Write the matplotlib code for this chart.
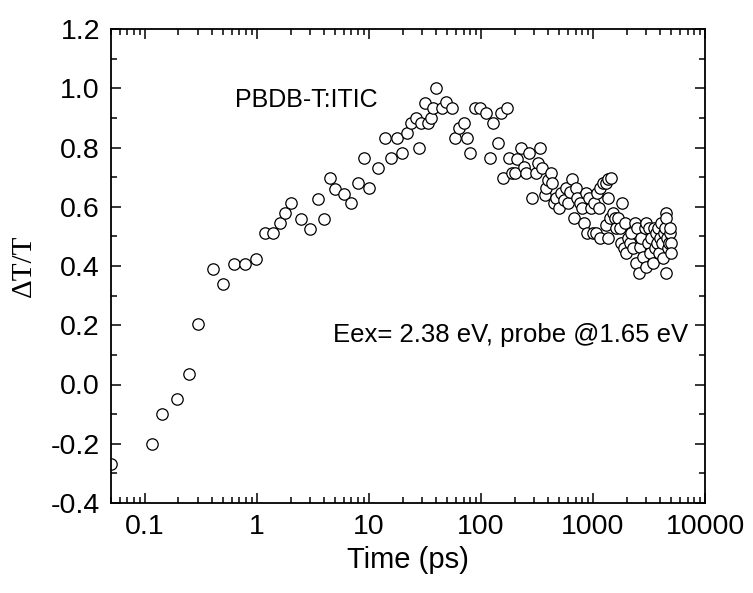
import matplotlib
matplotlib.use("Agg")
import matplotlib.pyplot as plt
from matplotlib.ticker import FixedLocator, FixedFormatter, LogLocator, MultipleLocator, FormatStrFormatter, NullFormatter

plt.rcParams['axes.unicode_minus'] = False
plt.rcParams['font.family'] = ['Liberation Sans', 'DejaVu Sans']

time_ps = [0.05, 0.116, 0.143, 0.196, 0.249, 0.301, 0.41, 0.50, 0.62, 0.79, 0.99,
           1.19, 1.39, 1.60, 1.80, 2.0, 2.5, 3.0, 3.5, 4.0, 4.48, 5.0, 6.0, 7.0, 8.0,
           9.0, 10.0, 12.0, 13.9, 15.9, 17.9, 19.9, 21.9, 23.8, 26.1, 27.9, 29.5,
           32.0, 33.8, 35.7, 37.4, 40, 44.8, 49.3, 55, 59.3, 64.4, 70, 74.9, 80,
           88.7, 98.3, 110, 120, 129, 141, 150, 159, 170, 177, 188, 202, 210, 228,
           242, 251, 270, 285, 309, 324, 340, 351, 371, 385, 397, 420, 435, 447,
           472, 495, 523, 549, 580, 600, 630, 656, 674, 702, 727, 763, 805, 827,
           863, 887, 923, 951, 991, 1024, 1060, 1089, 1135, 1150, 1167, 1231, 1301,
           1301, 1364, 1364, 1364, 1413, 1462, 1514, 1566, 1620, 1675, 1734, 1798,
           1833, 1884, 1925, 1992, 2059, 2130, 2206, 2282, 2362, 2444, 2493, 2576,
           2612, 2708, 2800, 2898, 2959, 3000, 3102, 3170, 3213, 3326, 3400, 3505,
           3580, 3658, 3760, 3840, 3920, 3980, 4084, 4170, 4224, 4310, 4370, 4460,
           4528, 4528, 4620, 4680, 4780, 4850, 4920, 5020, 5020]
dT_T = [-0.27, -0.20, -0.10, -0.05, 0.035, 0.204, 0.39, 0.34, 0.407, 0.407, 0.425,
        0.51, 0.51, 0.544, 0.578, 0.612, 0.56, 0.526, 0.627, 0.56, 0.696, 0.661, 0.644, 0.612, 0.679,
        0.765, 0.662, 0.73, 0.831, 0.765, 0.831, 0.78, 0.848, 0.882, 0.899, 0.798, 0.882,
        0.949, 0.882, 0.899, 0.932, 1.0, 0.932, 0.953, 0.932, 0.831, 0.865, 0.882, 0.831, 0.78,
        0.932, 0.932, 0.915, 0.765, 0.882, 0.814, 0.915, 0.696, 0.932, 0.765, 0.713, 0.713, 0.762, 0.797,
        0.733, 0.713, 0.78, 0.628, 0.715, 0.747, 0.797, 0.73, 0.64, 0.662, 0.69, 0.713, 0.679, 0.612,
        0.629, 0.595, 0.645, 0.623, 0.662, 0.612, 0.651, 0.694, 0.561, 0.662, 0.629, 0.612, 0.595, 0.544,
        0.645, 0.51, 0.629, 0.595, 0.51, 0.612, 0.51, 0.645, 0.595, 0.493, 0.662, 0.679, 0.679,
        0.538, 0.694, 0.629, 0.493, 0.561, 0.696, 0.578, 0.561, 0.527, 0.561, 0.527, 0.477,
        0.612, 0.46, 0.544, 0.443, 0.493, 0.477, 0.51, 0.46, 0.544, 0.409, 0.527, 0.375,
        0.465, 0.493, 0.431, 0.527, 0.544, 0.398, 0.477, 0.527, 0.443, 0.493, 0.409, 0.527,
        0.46, 0.51, 0.477, 0.527, 0.443, 0.493, 0.544, 0.477, 0.426, 0.51, 0.527, 0.578,
        0.375, 0.561, 0.493, 0.46, 0.477, 0.51, 0.527, 0.477, 0.443]

x_ticks = [0.1, 1, 10, 100, 1000, 10000]
x_labels = ["0.1", "1", "10", "100", "1000", "10000"]

fig = plt.figure(figsize=(7.53, 5.93), dpi=100)
ax = fig.add_axes([111/753, 1-503/593, (705-111)/753, (503-29)/593])

ax.plot(time_ps, dT_T, linestyle='none', marker='o', markersize=8.2,
        markerfacecolor='white', markeredgecolor='black', markeredgewidth=0.9,
        clip_on=True)

ax.set_xscale('log')
ax.set_xlim(0.05, 10000)
ax.set_ylim(-0.4, 1.2)

ax.xaxis.set_major_locator(FixedLocator(x_ticks))
ax.xaxis.set_major_formatter(FixedFormatter(x_labels))
ax.xaxis.set_minor_locator(LogLocator(base=10, subs=range(2, 10), numticks=20))
ax.xaxis.set_minor_formatter(NullFormatter())
ax.yaxis.set_major_locator(MultipleLocator(0.2))
ax.yaxis.set_minor_locator(MultipleLocator(0.1))
ax.yaxis.set_major_formatter(FormatStrFormatter('%.1f'))

ax.tick_params(which='both', direction='in', top=True, right=True, width=1.1,
               labelsize=20.5)
ax.tick_params(which='major', length=7, pad=8)
ax.tick_params(which='minor', length=4)
for s in ax.spines.values():
    s.set_linewidth(1.3)

ax.set_xlabel('Time (ps)', fontsize=21, labelpad=4)
ax.set_ylabel('ΔT/T', fontsize=21, family=['Liberation Serif', 'DejaVu Serif'], labelpad=10)

ax.text(235, 100, 'PBDB-T:ITIC', transform=None, fontsize=18, va='center', ha='left')
ax.text(333, 335, 'Eex= 2.38 eV, probe @1.65 eV', transform=None, fontsize=18.5,
        va='center', ha='left')

# text placed with pixel coordinates (from top) -> convert
for t in ax.texts:
    x, y = t.get_position()
    t.set_position((x / 753, 1 - y / 593))
    t.set_transform(fig.transFigure)

fig.savefig('out.png', dpi=100)
